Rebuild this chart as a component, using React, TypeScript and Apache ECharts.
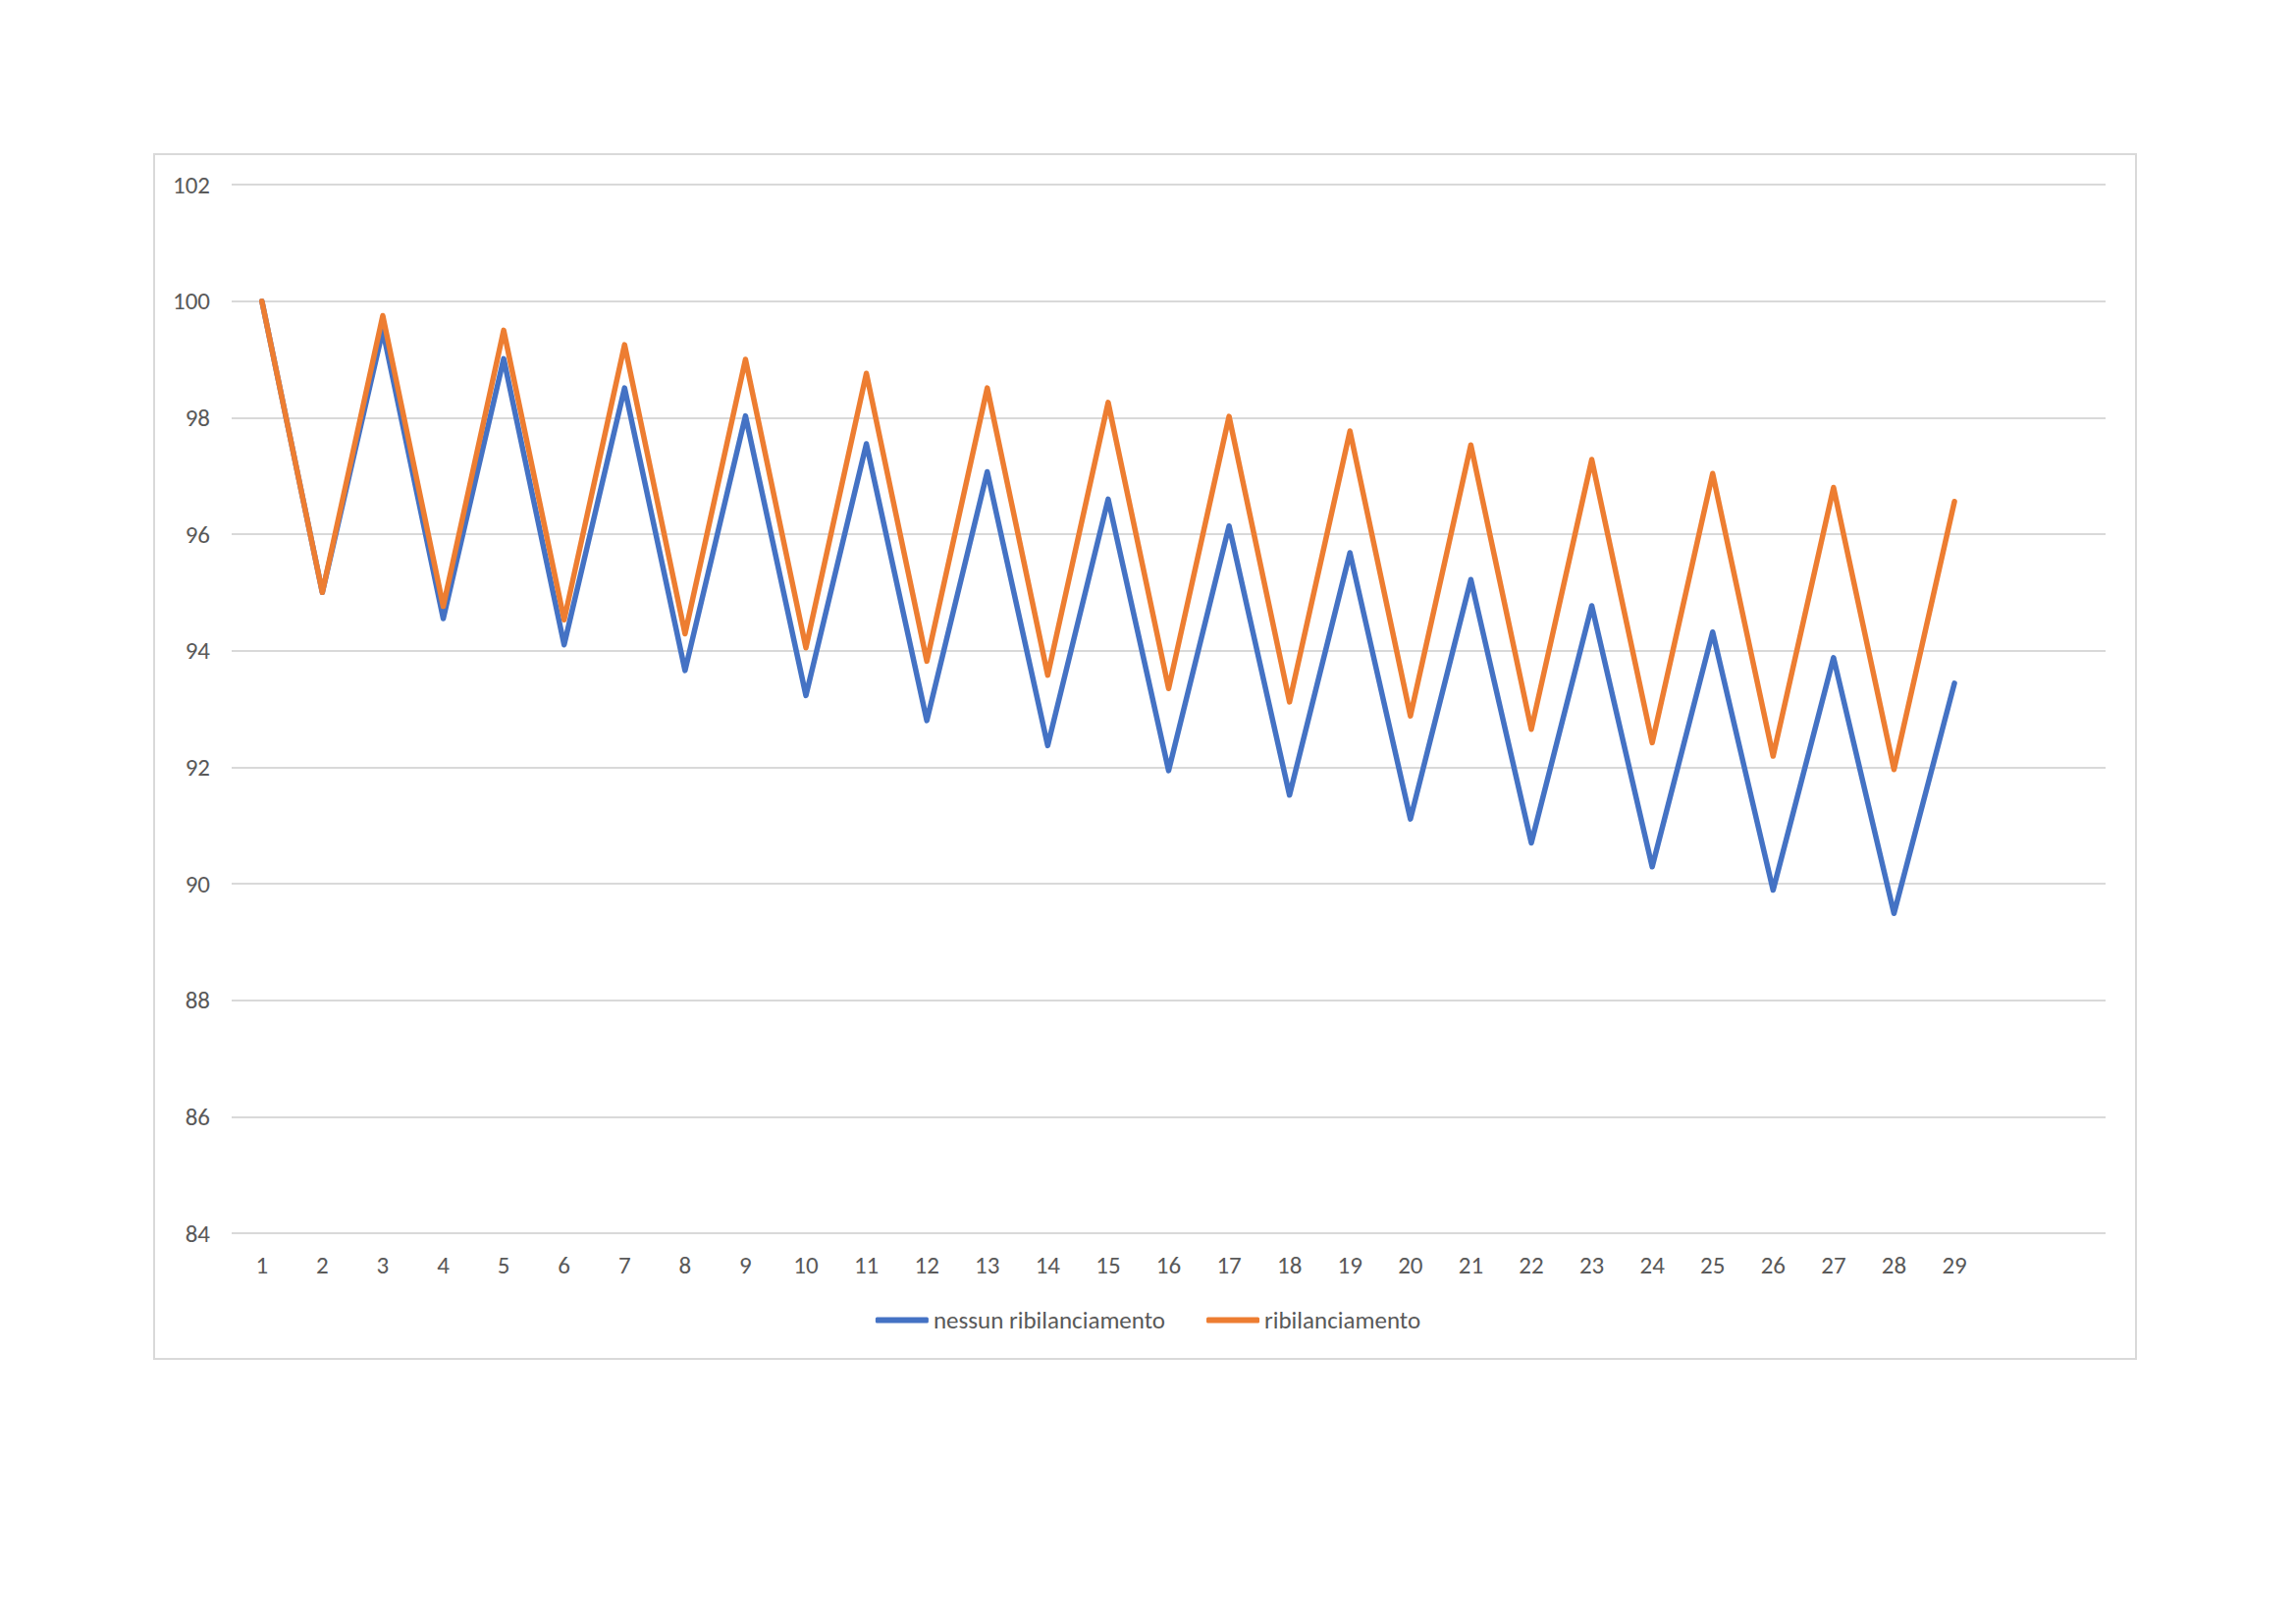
import React, { useEffect, useRef } from "react";
import * as echarts from "echarts";

const categories = [
  "1", "2", "3", "4", "5", "6", "7", "8", "9", "10",
  "11", "12", "13", "14", "15", "16", "17", "18", "19", "20",
  "21", "22", "23", "24", "25", "26", "27", "28", "29", "", "",
];

const nessunRibilanciamento = [
  100, 95, 99.5, 94.55, 99.01, 94.1, 98.51, 93.66, 98.03, 93.23,
  97.55, 92.8, 97.07, 92.37, 96.6, 91.94, 96.14, 91.52, 95.68, 91.11,
  95.22, 90.7, 94.77, 90.29, 94.32, 89.89, 93.88, 89.49, 93.44,
];

const ribilanciamento = [
  100, 95, 99.75, 94.76, 99.5, 94.53, 99.25, 94.29, 99.0, 94.05,
  98.76, 93.82, 98.51, 93.58, 98.26, 93.35, 98.02, 93.12, 97.77, 92.88,
  97.53, 92.65, 97.28, 92.42, 97.04, 92.19, 96.8, 91.96, 96.56,
];

const seriesNames = ["nessun ribilanciamento", "ribilanciamento"];

const FONT = "Carlito, Calibri, Lato, 'Noto Sans', sans-serif";
const TEXT = "#595959";

export default function App() {
  const ref = useRef<HTMLDivElement>(null);

  useEffect(() => {
    document.body.style.margin = "0";
    const chart = echarts.init(ref.current!, undefined, { renderer: "svg" });
    chart.setOption({
      animation: false,
      backgroundColor: "#ffffff",
      graphic: [
        {
          type: "rect",
          shape: { x: 157, y: 157, width: 2019, height: 1227 },
          style: { fill: "none", stroke: "#d9d9d9", lineWidth: 2 },
          silent: true,
        },
      ],
      grid: { left: 236, right: 194, top: 188, bottom: 398, containLabel: false },
      legend: {
        data: seriesNames,
        bottom: 1654 - 1362,
        left: "center",
        icon: "roundRect",
        itemWidth: 54,
        itemHeight: 6,
        itemGap: 42,
        textStyle: { color: TEXT, fontSize: 25, fontFamily: FONT },
      },
      xAxis: {
        type: "category",
        data: categories,
        boundaryGap: true,
        axisLine: { show: false },
        axisTick: { show: false },
        axisLabel: {
          interval: 0,
          color: TEXT,
          fontSize: 25,
          fontFamily: FONT,
          margin: 20,
        },
      },
      yAxis: {
        type: "value",
        min: 84,
        max: 102,
        interval: 2,
        axisLine: { show: false },
        axisTick: { show: false },
        axisLabel: { color: TEXT, fontSize: 25, fontFamily: FONT, margin: 22 },
        splitLine: { lineStyle: { color: "#d9d9d9", width: 2 } },
      },
      series: [
        {
          name: seriesNames[0],
          type: "line",
          data: nessunRibilanciamento,
          symbol: "none",
          lineStyle: { color: "#4472C4", width: 5.5, cap: "round", join: "round" },
          itemStyle: { color: "#4472C4" },
        },
        {
          name: seriesNames[1],
          type: "line",
          data: ribilanciamento,
          symbol: "none",
          lineStyle: { color: "#ED7D31", width: 5.5, cap: "round", join: "round" },
          itemStyle: { color: "#ED7D31" },
        },
      ],
    });
    return () => chart.dispose();
  }, []);

  return <div ref={ref} style={{ width: 2339, height: 1654 }} />;
}
